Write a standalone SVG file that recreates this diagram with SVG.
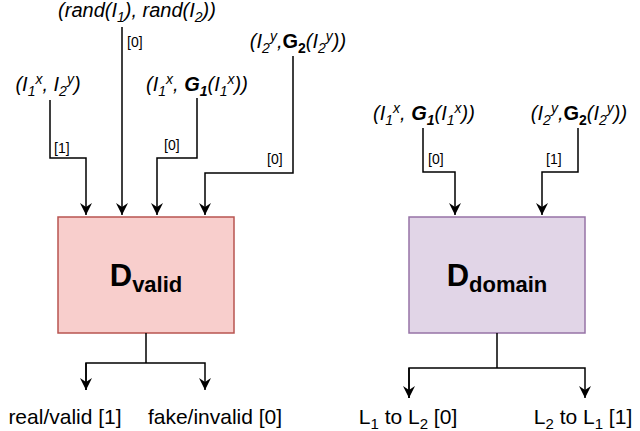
<svg xmlns="http://www.w3.org/2000/svg" width="640" height="431" viewBox="0 0 640 431">
<style>
text{font-family:"Liberation Sans",Arial,sans-serif;fill:#000}
.it{font-style:italic;font-size:20px}
.lb{font-size:14px}
.out{font-size:21px}
.c path{fill:none;stroke:#000;stroke-width:1.5}
</style>
<defs><marker id="d" markerWidth="12" markerHeight="12" refX="6" refY="12" orient="0" markerUnits="userSpaceOnUse" viewBox="0 0 12 12"><path d="M0,0 L6,12 L12,0 L6,4 Z"/></marker></defs>
<g id="Dvalid"><rect x="58" y="217" width="176" height="116" fill="#f8cecc" stroke="#b85450" stroke-width="1.5"/>
<text x="146" y="286" text-anchor="middle" font-weight="bold"><tspan font-size="31">D</tspan><tspan font-size="22" dy="6">valid</tspan></text></g>
<g id="Ddomain"><rect x="409" y="217" width="176" height="116" fill="#e1d5e7" stroke="#9673a6" stroke-width="1.5"/>
<text x="497" y="286" text-anchor="middle" font-weight="bold"><tspan font-size="31">D</tspan><tspan font-size="22" dy="6">domain</tspan></text></g>
<g id="labels">
<text class="it" x="137" y="17" text-anchor="middle">(rand(I<tspan font-size="14" dy="5">1</tspan><tspan dy="-5">), rand(I</tspan><tspan font-size="14" dy="5">2</tspan><tspan dy="-5">))</tspan></text>
<text class="it" x="48" y="91" text-anchor="middle">(I<tspan font-size="14" dy="5">1</tspan><tspan font-size="14" dy="-12">x</tspan><tspan dy="7">, I</tspan><tspan font-size="14" dy="5">2</tspan><tspan font-size="14" dy="-12">y</tspan><tspan dy="7">)</tspan></text>
<text class="it" x="197" y="91" text-anchor="middle">(I<tspan font-size="14" dy="5">1</tspan><tspan font-size="14" dy="-12">x</tspan><tspan dy="7">, </tspan><tspan font-weight="bold">G</tspan><tspan font-weight="bold" font-size="14" dy="5">1</tspan><tspan dy="-5">(I</tspan><tspan font-size="14" dy="5">1</tspan><tspan font-size="14" dy="-12">x</tspan><tspan dy="7">))</tspan></text>
<text class="it" x="298" y="48" text-anchor="middle">(I<tspan font-size="14" dy="5">2</tspan><tspan font-size="14" dy="-12">y</tspan><tspan dy="7">,</tspan><tspan font-weight="bold" font-style="normal">G</tspan><tspan font-weight="bold" font-style="normal" font-size="14" dy="5">2</tspan><tspan dy="-5">(I</tspan><tspan font-size="14" dy="5">2</tspan><tspan font-size="14" dy="-12">y</tspan><tspan dy="7">))</tspan></text>
<text class="it" x="424" y="120" text-anchor="middle">(I<tspan font-size="14" dy="5">1</tspan><tspan font-size="14" dy="-12">x</tspan><tspan dy="7">, </tspan><tspan font-weight="bold">G</tspan><tspan font-weight="bold" font-size="14" dy="5">1</tspan><tspan dy="-5">(I</tspan><tspan font-size="14" dy="5">1</tspan><tspan font-size="14" dy="-12">x</tspan><tspan dy="7">))</tspan></text>
<text class="it" x="579" y="120" text-anchor="middle">(I<tspan font-size="14" dy="5">2</tspan><tspan font-size="14" dy="-12">y</tspan><tspan dy="7">,</tspan><tspan font-weight="bold" font-style="normal">G</tspan><tspan font-weight="bold" font-style="normal" font-size="14" dy="5">2</tspan><tspan dy="-5">(I</tspan><tspan font-size="14" dy="5">2</tspan><tspan font-size="14" dy="-12">y</tspan><tspan dy="7">))</tspan></text>
</g>
<g class="c" id="connectors">
<path d="M50,100 V158 H86 V215" marker-end="url(#d)"/>
<path d="M122,27 V215" marker-end="url(#d)"/>
<path d="M197,98 V158 H157 V215" marker-end="url(#d)"/>
<path d="M293,56 V173 H205 V215" marker-end="url(#d)"/>
<path d="M423,128 V172 H455 V215" marker-end="url(#d)"/>
<path d="M578,128 V172 H542 V215" marker-end="url(#d)"/>
<path d="M146,333 V363 M86,390 V363 H205 V390" marker-end="url(#d)"/>
<path d="M86,363 V390" marker-end="url(#d)"/>
<path d="M497,333 V368 M409,398 V368 H585 V398" marker-end="url(#d)"/>
<path d="M409,368 V398" marker-end="url(#d)"/>
<text class="lb" x="54" y="153">[1]</text>
<text class="lb" x="127" y="47">[0]</text>
<text class="lb" x="164" y="150">[0]</text>
<text class="lb" x="267" y="164">[0]</text>
<text class="lb" x="428" y="164">[0]</text>
<text class="lb" x="546" y="164">[1]</text>
</g>
<g id="outputs">
<text class="out" x="65" y="424" text-anchor="middle">real/valid [1]</text>
<text class="out" x="215" y="424" text-anchor="middle">fake/invalid [0]</text>
<text class="out" x="408" y="424" text-anchor="middle">L<tspan font-size="15" dy="5">1</tspan><tspan dy="-5"> to L</tspan><tspan font-size="15" dy="5">2</tspan><tspan dy="-5"> [0]</tspan></text>
<text class="out" x="583" y="424" text-anchor="middle">L<tspan font-size="15" dy="5">2</tspan><tspan dy="-5"> to L</tspan><tspan font-size="15" dy="5">1</tspan><tspan dy="-5"> [1]</tspan></text>
</g>
</svg>
